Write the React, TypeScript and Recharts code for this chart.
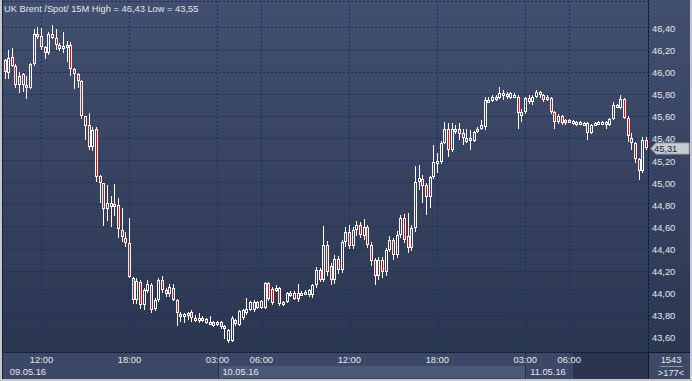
import React from 'react';
import { ComposedChart, Bar, XAxis, YAxis, CartesianGrid, ReferenceLine } from 'recharts';

const opens = [
  46.11, 45.99, 46.14, 46.06, 45.88, 45.98, 45.88, 45.86, 46.07, 46.35,
  46.33, 46.23, 46.17, 46.35, 46.31, 46.25, 46.21, 46.24, 46.25, 46.03,
  45.98, 45.92, 45.60, 45.52, 45.32, 45.49, 45.06, 45.00, 44.76, 44.82,
  44.81, 44.80, 44.57, 44.50, 44.45, 44.14, 43.94, 44.10, 43.89, 44.02,
  44.07, 43.86, 43.94, 44.12, 44.03, 43.99, 44.05, 43.94, 43.81, 43.80,
  43.81, 43.83, 43.78, 43.77, 43.75, 43.77, 43.74, 43.74, 43.71, 43.74,
  43.70, 43.57, 43.57, 43.76, 43.71, 43.78, 43.82, 43.85, 43.85, 43.92,
  43.87, 43.87, 44.09, 44.04, 44.03, 44.05, 43.89, 43.92, 43.98, 44.00,
  43.95, 43.99, 44.00, 43.98, 43.98, 44.07, 44.21, 44.12, 44.44, 44.25,
  44.12, 44.31, 44.21, 44.46, 44.55, 44.43, 44.57, 44.62, 44.52, 44.60,
  44.44, 44.30, 44.16, 44.30, 44.19, 44.39, 44.48, 44.35, 44.53, 44.68,
  44.52, 44.41, 44.59, 45.01, 45.03, 44.98, 44.87, 45.05, 45.19, 45.19,
  45.36, 45.49, 45.30, 45.46, 45.49, 45.45, 45.37, 45.40, 45.38, 45.46,
  45.49, 45.50, 45.73, 45.74, 45.78, 45.77, 45.81, 45.80, 45.77, 45.78,
  45.78, 45.60, 45.64, 45.77, 45.73, 45.78, 45.82, 45.79, 45.75, 45.77,
  45.64, 45.55, 45.60, 45.54, 45.57, 45.56, 45.53, 45.55, 45.52, 45.54,
  45.45, 45.54, 45.54, 45.55, 45.55, 45.52, 45.58, 45.70, 45.68, 45.76,
  45.59, 45.40, 45.36, 45.21, 45.11, 45.39,
];

const highs = [
  46.12, 46.20, 46.22, 46.07, 46.00, 45.99, 45.97, 46.08, 46.39, 46.41,
  46.40, 46.24, 46.36, 46.43, 46.39, 46.26, 46.36, 46.28, 46.27, 46.04,
  45.99, 45.93, 45.60, 45.63, 45.50, 45.50, 45.07, 45.00, 44.98, 44.88,
  44.99, 44.86, 44.77, 44.55, 44.68, 44.15, 44.14, 44.12, 44.05, 44.12,
  44.09, 43.96, 44.14, 44.16, 44.05, 44.08, 44.08, 43.95, 43.83, 43.82,
  43.83, 43.85, 43.80, 43.82, 43.79, 43.78, 43.79, 43.75, 43.75, 43.75,
  43.71, 43.68, 43.79, 43.77, 43.85, 43.86, 43.96, 43.93, 43.94, 43.93,
  43.94, 44.10, 44.10, 44.06, 44.07, 44.06, 43.93, 44.01, 44.02, 44.02,
  44.08, 44.02, 44.03, 44.04, 44.08, 44.24, 44.23, 44.61, 44.47, 44.27,
  44.35, 44.34, 44.48, 44.60, 44.62, 44.60, 44.65, 44.64, 44.67, 44.62,
  44.46, 44.32, 44.33, 44.33, 44.41, 44.52, 44.50, 44.56, 44.71, 44.72,
  44.73, 44.62, 45.15, 45.16, 45.07, 45.00, 45.06, 45.34, 45.27, 45.38,
  45.55, 45.54, 45.54, 45.52, 45.54, 45.49, 45.49, 45.48, 45.47, 45.50,
  45.57, 45.78, 45.78, 45.79, 45.79, 45.87, 45.84, 45.82, 45.82, 45.81,
  45.79, 45.67, 45.78, 45.79, 45.79, 45.84, 45.83, 45.80, 45.79, 45.78,
  45.65, 45.62, 45.61, 45.58, 45.58, 45.57, 45.56, 45.56, 45.55, 45.55,
  45.53, 45.55, 45.56, 45.56, 45.56, 45.59, 45.73, 45.71, 45.79, 45.77,
  45.60, 45.45, 45.37, 45.22, 45.41, 45.41,
];

const lows = [
  45.94, 45.94, 46.05, 45.86, 45.81, 45.82, 45.76, 45.85, 46.06, 46.30,
  46.20, 46.12, 46.16, 46.30, 46.20, 46.19, 46.17, 46.09, 45.97, 45.85,
  45.86, 45.58, 45.39, 45.30, 45.29, 45.01, 44.82, 44.61, 44.65, 44.60,
  44.70, 44.50, 44.46, 44.42, 44.14, 43.90, 43.90, 43.86, 43.85, 44.00,
  43.82, 43.84, 43.92, 44.00, 43.97, 43.97, 43.93, 43.70, 43.74, 43.73,
  43.76, 43.74, 43.74, 43.73, 43.74, 43.72, 43.72, 43.69, 43.70, 43.68,
  43.59, 43.55, 43.56, 43.70, 43.70, 43.76, 43.80, 43.84, 43.83, 43.86,
  43.86, 43.86, 43.93, 43.89, 44.01, 43.88, 43.88, 43.91, 43.97, 43.94,
  43.92, 43.98, 43.99, 43.97, 43.96, 44.05, 44.10, 44.10, 44.16, 44.07,
  44.08, 44.17, 44.18, 44.42, 44.40, 44.40, 44.52, 44.50, 44.48, 44.41,
  44.25, 44.07, 44.12, 44.14, 44.16, 44.37, 44.30, 44.32, 44.50, 44.45,
  44.36, 44.38, 44.55, 44.93, 44.82, 44.71, 44.77, 45.03, 45.09, 45.17,
  45.35, 45.23, 45.28, 45.44, 45.39, 45.34, 45.36, 45.30, 45.37, 45.45,
  45.48, 45.48, 45.72, 45.73, 45.74, 45.76, 45.75, 45.76, 45.76, 45.77,
  45.49, 45.55, 45.62, 45.71, 45.70, 45.77, 45.77, 45.73, 45.74, 45.62,
  45.49, 45.53, 45.52, 45.52, 45.54, 45.52, 45.51, 45.52, 45.51, 45.39,
  45.44, 45.53, 45.52, 45.53, 45.49, 45.51, 45.57, 45.68, 45.67, 45.58,
  45.37, 45.30, 45.18, 45.02, 45.09, 45.30,
];

const closes = [
  46.00, 46.13, 46.06, 45.88, 45.97, 45.88, 45.86, 46.07, 46.35, 46.33,
  46.23, 46.17, 46.35, 46.31, 46.25, 46.21, 46.24, 46.25, 46.03, 45.98,
  45.92, 45.60, 45.51, 45.32, 45.48, 45.05, 45.00, 44.76, 44.82, 44.78,
  44.78, 44.58, 44.51, 44.45, 44.15, 43.94, 44.11, 43.89, 44.03, 44.08,
  43.85, 43.94, 44.12, 44.03, 43.99, 44.06, 43.94, 43.82, 43.80, 43.81,
  43.82, 43.78, 43.77, 43.78, 43.78, 43.73, 43.74, 43.70, 43.74, 43.69,
  43.68, 43.67, 43.78, 43.72, 43.84, 43.85, 43.86, 43.92, 43.92, 43.87,
  43.93, 44.09, 43.95, 43.91, 44.05, 43.90, 43.92, 44.00, 44.00, 43.95,
  44.00, 44.00, 44.01, 44.03, 44.07, 44.21, 44.12, 44.44, 44.19, 44.12,
  44.31, 44.21, 44.46, 44.55, 44.43, 44.57, 44.62, 44.53, 44.60, 44.44,
  44.29, 44.16, 44.30, 44.19, 44.39, 44.48, 44.35, 44.53, 44.68, 44.48,
  44.41, 44.59, 45.01, 45.04, 44.97, 44.87, 45.05, 45.19, 45.20, 45.36,
  45.49, 45.30, 45.49, 45.49, 45.44, 45.40, 45.40, 45.38, 45.46, 45.49,
  45.52, 45.75, 45.75, 45.78, 45.75, 45.81, 45.79, 45.78, 45.81, 45.79,
  45.63, 45.64, 45.77, 45.73, 45.78, 45.82, 45.79, 45.75, 45.78, 45.64,
  45.55, 45.60, 45.54, 45.57, 45.56, 45.53, 45.55, 45.53, 45.54, 45.45,
  45.52, 45.54, 45.55, 45.55, 45.54, 45.58, 45.70, 45.69, 45.76, 45.59,
  45.42, 45.36, 45.21, 45.11, 45.39, 45.31,
];

const timeTickIndex = [10, 34, 58, 70, 94, 118, 142, 154];
const timeTickLabels = ['12:00', '18:00', '03:00', '06:00', '12:00', '18:00', '03:00', '06:00'];
const dayStartIndex = [0, 58, 142];
const dayLabels = ['09.05.16', '10.05.16', '11.05.16'];
const priceTicks = [43.6, 43.8, 44.0, 44.2, 44.4, 44.6, 44.8, 45.0, 45.2, 45.4, 45.6, 45.8, 46.0, 46.2, 46.4];
const titleText = 'UK Brent /Spot/ 15M High = 46,43 Low = 43,55';
const lastPrice = 45.31;
const barCountText = '1543';
const visibleCountText = '>177<';

const data = opens.map((o, i) => ({ i, open: o, high: highs[i], low: lows[i], close: closes[i] }));
const allTicks = Array.from(new Set([...dayStartIndex, ...timeTickIndex])).sort((a, b) => a - b);

const FONT = '"Liberation Sans", Arial, sans-serif';
const TXT = '#e2e7ef';
const GRID = '#17305f';
const fmt = (v: number) => v.toFixed(2).replace('.', ',');

const Candle = (props: any) => {
  const { x, y, width, height, payload } = props;
  if (!payload) return null;
  const { open, close, high, low } = payload;
  const y0 = Math.min(y, y + height);
  const h = Math.abs(height);
  const span = high - low;
  const k = span > 0 ? h / span : 0;
  const yOf = (v: number) => y0 + (high - v) * k;
  const col = Math.floor(x + width / 2);
  const yH = Math.round(yOf(high));
  const yL = Math.round(yOf(low));
  let top = Math.round(yOf(Math.max(open, close)));
  let bot = Math.round(yOf(Math.min(open, close)));
  if (bot - top < 3) bot = top + 3;
  const up = close >= open;
  return (
    <g>
      {top > yH && <rect x={col} y={yH} width={1} height={top - yH} fill="#ffffff" />}
      {yL > bot && <rect x={col} y={bot} width={1} height={yL - bot} fill="#ffffff" />}
      <rect x={col - 0.5} y={top + 0.5} width={2} height={bot - top - 1} fill={up ? 'none' : '#ff0000'} stroke="#ffffff" strokeWidth={1} />
    </g>
  );
};

const GridLine = (props: any) => {
  const { x1, y1, x2, y2 } = props;
  if (x1 == null || y1 == null) return null;
  if (Math.abs(y1 - y2) < 0.01) {
    const yy = Math.floor(y1) + 0.5;
    return <line x1={x1} x2={x2} y1={yy} y2={yy} stroke={GRID} strokeWidth={1} strokeDasharray="2 2" />;
  }
  if (x1 < 10) return null;
  const xx = Math.floor(x1) + 0.5;
  return <line x1={xx} x2={xx} y1={y1} y2={y2} stroke={GRID} strokeWidth={1} strokeDasharray="2 2" />;
};

const TimeTick = (props: any) => {
  const { x, y, payload } = props;
  const v = payload.value;
  const k = timeTickIndex.indexOf(v);
  const d = dayStartIndex.indexOf(v);
  return (
    <g>
      {k >= 0 && (
        <text x={x} y={y + 11.3} textAnchor="middle" fill={TXT} fontSize={9.3} fontFamily={FONT}>{timeTickLabels[k]}</text>
      )}
      {d >= 0 && (
        <text x={x + 5} y={y + 23} textAnchor="start" fill={TXT} fontSize={9.3} fontFamily={FONT}>{dayLabels[d]}</text>
      )}
    </g>
  );
};

const PriceTick = (props: any) => {
  const { x, y, payload } = props;
  return (
    <text x={x} y={y + 4} textAnchor="start" fill={TXT} fontSize={9.3} fontFamily={FONT}>{fmt(payload.value)}</text>
  );
};

const PriceTag = (props: any) => {
  const vb = props.viewBox || {};
  const xr = (vb.x || 0) + (vb.width || 0);
  const cy = Math.round(vb.y || 0) + 0.5;
  const pts = `${xr + 3},${cy} ${xr + 8},${cy - 5.5} ${xr + 41},${cy - 5.5} ${xr + 41},${cy + 5.5} ${xr + 8},${cy + 5.5}`;
  return (
    <g>
      <polygon points={pts} fill="#c6cad1" stroke="#9ea4ae" strokeWidth={1} />
      <text x={xr + 6} y={cy + 3.8} textAnchor="start" fill="#1b2233" fontSize={9.3} fontFamily={FONT}>{fmt(lastPrice)}</text>
    </g>
  );
};

export default function App() {
  return (
    <div style={{ position: 'absolute', left: 0, top: 0, width: 692, height: 381, overflow: 'hidden' }}>
      <svg width={692} height={381} style={{ position: 'absolute', left: 0, top: 0 }}>
        <defs>
          <linearGradient id="bgPlot" x1="0" y1="0" x2="0" y2="1">
            <stop offset="0" stopColor="#424f6e" />
            <stop offset="1" stopColor="#2b3651" />
          </linearGradient>
        </defs>
        <rect x={0} y={0} width={692} height={353} fill="url(#bgPlot)" />
        <rect x={0} y={353} width={692} height={28} fill="#3c4866" />
        <rect x={218} y={366} width={307} height={12} fill="#4b5876" />
        <rect x={573} y={353} width={76} height={26} fill="#2b3550" />
        <rect x={218} y={353} width={1} height={26} fill="#27314a" />
        <rect x={525} y={353} width={1} height={26} fill="#27314a" />
        <rect x={0} y={352} width={692} height={1} fill="#101726" />
        <rect x={648} y={0} width={1} height={379} fill="#101726" />
        <rect x={2} y={0} width={1} height={379} fill="#1a2234" />
        <rect x={0} y={0} width={2} height={381} fill="#c3c7cf" />
        <rect x={0} y={379} width={692} height={2} fill="#c3c7cf" />
        <rect x={690} y={0} width={2} height={381} fill="#c3c7cf" />
      </svg>
      <div style={{ position: 'absolute', left: 0, top: 0 }}>
        <ComposedChart width={692} height={381} data={data} margin={{ top: 1, right: 0, bottom: 0, left: 3 }} barCategoryGap={0}>
          <CartesianGrid
            stroke={GRID}
            horizontal={(p: any) => <GridLine key={p.key} {...p} />}
            vertical={(p: any) => <GridLine key={p.key} {...p} />}
          />
          <XAxis dataKey="i" type="category" ticks={allTicks} interval={0} height={29} axisLine={false} tickLine={false} tickSize={0} tickMargin={0} tick={<TimeTick />} />
          <YAxis orientation="right" type="number" domain={[43.4679, 46.6443]} allowDataOverflow ticks={priceTicks} interval={0} width={44} axisLine={false} tickLine={false} tickSize={0} tickMargin={4} tick={<PriceTick />} />
          <Bar dataKey={(d: any) => [d.low, d.high]} shape={(p: any) => <Candle {...p} />} isAnimationActive={false} />
          <ReferenceLine y={lastPrice} stroke="none" label={(p: any) => <PriceTag {...p} />} />
        </ComposedChart>
      </div>
      <svg width={692} height={381} style={{ position: 'absolute', left: 0, top: 0, pointerEvents: 'none' }}>
        <text x={4} y={12} fill={TXT} fontSize={9.3} fontFamily={FONT}>{titleText}</text>
        <text x={671} y={363} textAnchor="middle" fill={TXT} fontSize={9.3} fontFamily={FONT}>{barCountText}</text>
        <rect x={660} y={366} width={23} height={1} fill="#8e97a8" />
        <text x={671} y={376} textAnchor="middle" fill={TXT} fontSize={9.3} fontFamily={FONT}>{visibleCountText}</text>
      </svg>
    </div>
  );
}
